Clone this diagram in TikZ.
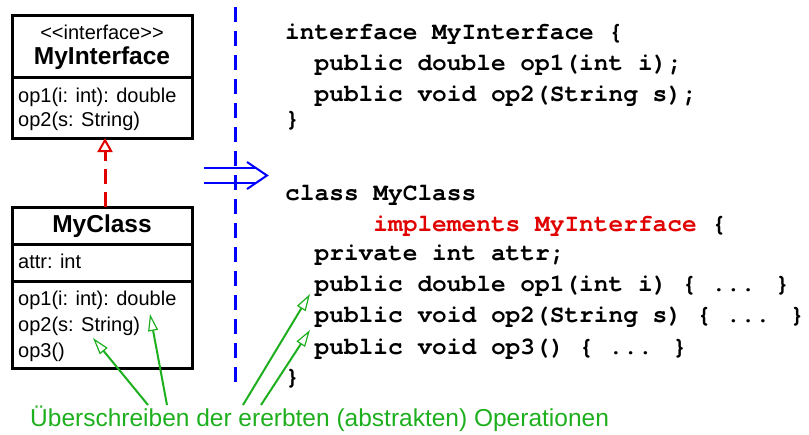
\documentclass[tikz,border=0pt]{standalone}
\usepackage{fontspec}
\usepackage{xcolor}
\usepackage{tikz}
\usetikzlibrary{positioning}
\usetikzlibrary{arrows.meta}
\newfontfamily\umlfont{Liberation Sans}
\newfontfamily\codefont{TeX Gyre Cursor}
\definecolor{hintgreen}{RGB}{30,175,30}
\definecolor{kwred}{RGB}{225,0,0}
\tikzset{
  umlbox/.style = {draw, line width=3pt, minimum width=180, inner sep=0pt, outer sep=0pt},
  uml/.style = {inner sep=0pt, anchor=base west, font=\umlfont\fontsize{20}{24}\selectfont},
  umltitle/.style = {uml, anchor=base, font=\umlfont\bfseries\fontsize{24.5}{28}\selectfont},
  code/.style = {inner sep=0pt, anchor=base west, font=\codefont\bfseries\fontsize{24.5}{30}\selectfont},
  realize/.style = {draw, kwred, line width=3pt, dash pattern=on 15pt off 8pt,
    -{Triangle[open, length=14pt, width=15pt, line width=2pt]}},% interface realisation
  hint/.style = {draw, hintgreen, line width=2pt,
    -{Triangle[open, length=17pt, width=10pt, line width=1.2pt]}}
}
\begin{document}
\begin{tikzpicture}[x=1pt, y=-1pt]
\useasboundingbox (0,0) rectangle (809,434);
% UML side
\node [umlbox, minimum height=62, anchor=north west] (ifchead) at (12,15) {};
\node [umlbox, minimum height=61, below=0pt of ifchead] (ifcops) {};
\node [uml, anchor=base] (stereo) at (102,39) {<{}<interface>{}>};
\node [umltitle] (ifcname) at (102,64) {MyInterface};
\node [uml] (iop1) at (18,102) {op1(i: int): double};
\node [uml] (iop2) at (18,126) {op2(s: String)};

\node [umlbox, minimum height=37, anchor=north west] (clshead) at (12,207) {};
\node [umlbox, minimum height=37, below=0pt of clshead] (clsattr) {};
\node [umlbox, minimum height=87, below=0pt of clsattr] (clsops) {};
\node [umltitle] (clsname) at (102,232) {MyClass};
\node [uml] (attr) at (18,268) {attr: int};
\node [uml] (cop1) at (18,305) {op1(i: int): double};
\node [uml] (cop2) at (18,331) {op2(s: String)};
\node [uml] (cop3) at (18,357) {op3()};

\draw [realize] ([xshift=3pt]clshead.north) -- ([xshift=3pt]ifcops.south);

% separator and mapping arrow
\coordinate (septop) at (235,7);
\coordinate (sepbot) at (235,388);
\draw [blue, line width=3pt, dash pattern=on 15pt off 9pt] (septop) -- (sepbot);
\draw [blue, line width=2pt] (204,168) -- (255,168) (204,183) -- (255,183);
\draw [blue, line width=2pt, line join=miter] (247,162) -- (267,175.5) -- (247,189);

% Java side
\node [code] (j1) at (285,39) {interface MyInterface \{};
\node [code] (j2) at (314.4,70) {public double op1(int i);};
\node [code] (j3) at (314.4,101) {public void op2(String s);};
\node [code] (j4) at (285,126) {\}};

\node [code] (k1) at (285,200) {class MyClass};
\node [code, kwred] (k2) at (373.2,231) {implements MyInterface};
\node [code, right=14.7pt of k2.base east, anchor=base west] (k2b) {\{};
\node [code] (k3) at (314.4,260) {private int attr;};
\node [code] (k4) at (314.4,291) {public double op1(int i) \{ ... \}};
\node [code] (k5) at (314.4,322) {public void op2(String s) \{ ... \}};
\node [code] (k6) at (314.4,354) {public void op3() \{ ... \}};
\node [code] (k7) at (285,384) {\}};

% note
\node [uml, hintgreen, font=\umlfont\fontsize{24.5}{28}\selectfont] (note) at (30,426)
  {Überschreiben der ererbten (abstrakten) Operationen};
\coordinate (s1) at (148,405);
\coordinate (s2) at (167,405);
\coordinate (s3) at (243,405);
\coordinate (s4) at (261,405);
\coordinate (t1) at (93,338);
\coordinate (t2) at (150,314);
\coordinate (t3) at (310,294);
\coordinate (t4) at (310,330);
\foreach \s/\t in {s1/t1, s2/t2, s3/t3, s4/t4}
  \draw [hint] (\s) -- (\t);
\end{tikzpicture}
\end{document}
